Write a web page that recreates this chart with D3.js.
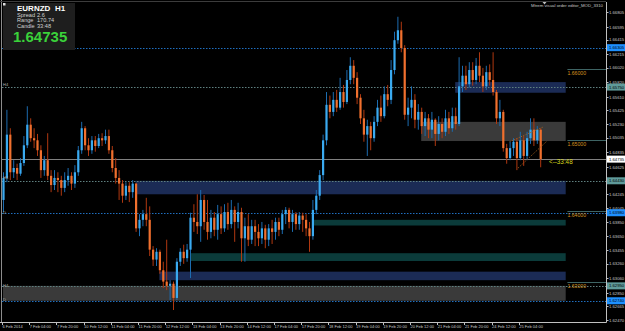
<!DOCTYPE html>
<html>
<head>
<meta charset="utf-8">
<title>EURNZD H1</title>
<style>
  body { margin: 0; background: #000; }
  svg { display: block; }
  text { font-family: "Liberation Sans", Arial, sans-serif; }
</style>
<script src="https://d3js.org/d3.v7.min.js"></script>
</head>
<body>
<svg width="625" height="331"></svg>
<script>
// EURNZD H1, one bar every two hours
var firstOpen = 1.6416;
var closes = [
  1.6447, 1.6508, 1.6455, 1.6461, 1.6453, 1.6468, 1.6493, 1.6522, 1.6503, 1.6500,
  1.6486, 1.6458, 1.6472, 1.6450, 1.6437, 1.6447, 1.6444, 1.6433, 1.6444, 1.6450,
  1.6439, 1.6455, 1.6486, 1.6517, 1.6493, 1.6486, 1.6500, 1.6492, 1.6503, 1.6500,
  1.6506, 1.6486, 1.6461, 1.6447, 1.6439, 1.6422, 1.6436, 1.6427, 1.6439, 1.6376,
  1.6388, 1.6396, 1.6388, 1.6346, 1.6332, 1.6343, 1.6317, 1.6301, 1.6295, 1.6298,
  1.6278, 1.6329, 1.6343, 1.6334, 1.6346, 1.6391, 1.6385, 1.6379, 1.6416, 1.6385,
  1.6371, 1.6391, 1.6374, 1.6396, 1.6376, 1.6399, 1.6382, 1.6402, 1.6385, 1.6399,
  1.6362, 1.6379, 1.6360, 1.6379, 1.6371, 1.6362, 1.6376, 1.6360, 1.6376, 1.6371,
  1.6385, 1.6374, 1.6396, 1.6402, 1.6385, 1.6396, 1.6382, 1.6394, 1.6388, 1.6376,
  1.6365, 1.6402, 1.6422, 1.6451, 1.6500, 1.6550, 1.6540, 1.6557, 1.6546, 1.6568,
  1.6554, 1.6585, 1.6605, 1.6588, 1.6560, 1.6531, 1.6508, 1.6520, 1.6503, 1.6526,
  1.6546, 1.6534, 1.6565, 1.6557, 1.6599, 1.6641, 1.6655, 1.6630, 1.6536, 1.6546,
  1.6557, 1.6529, 1.6540, 1.6520, 1.6531, 1.6515, 1.6529, 1.6509, 1.6523, 1.6512,
  1.6531, 1.6517, 1.6534, 1.6523, 1.6576, 1.6591, 1.6579, 1.6599, 1.6585, 1.6605,
  1.6591, 1.6576, 1.6596, 1.6585, 1.6568, 1.6531, 1.6540, 1.6489, 1.6475, 1.6489,
  1.6498, 1.6475, 1.6500, 1.6478, 1.6503, 1.6515, 1.6500, 1.6515, 1.64735
];
var highs = [
  1.6455, 1.6543, 1.6517, 1.6472, 1.6467, 1.6475, 1.6506, 1.6548, 1.6531, 1.6517,
  1.6509, 1.6493, 1.6478, 1.6510, 1.6458, 1.6458, 1.6455, 1.6450, 1.6455, 1.6461,
  1.6455, 1.6465, 1.6492, 1.6526, 1.6520, 1.6503, 1.6506, 1.6506, 1.6509, 1.6510,
  1.6515, 1.6515, 1.6492, 1.6475, 1.6458, 1.6444, 1.6441, 1.6441, 1.6444, 1.6440,
  1.6396, 1.6402, 1.6419, 1.6407, 1.6351, 1.6348, 1.6346, 1.6329, 1.6360, 1.6303,
  1.6301, 1.6334, 1.6348, 1.6353, 1.6354, 1.6398, 1.6410, 1.6424, 1.6430, 1.6423,
  1.6416, 1.6402, 1.6399, 1.6409, 1.6407, 1.6410, 1.6412, 1.6416, 1.6407, 1.6412,
  1.6405, 1.6391, 1.6396, 1.6388, 1.6388, 1.6382, 1.6385, 1.6381, 1.6382, 1.6388,
  1.6391, 1.6391, 1.6402, 1.6406, 1.6405, 1.6402, 1.6399, 1.6399, 1.6398, 1.6396,
  1.6385, 1.6416, 1.6430, 1.6458, 1.6508, 1.6568, 1.6563, 1.6568, 1.6571, 1.6588,
  1.6578, 1.6599, 1.6617, 1.6613, 1.6596, 1.6565, 1.6543, 1.6529, 1.6526, 1.6534,
  1.6557, 1.6563, 1.6576, 1.6578, 1.6613, 1.6653, 1.6674, 1.6667, 1.6634, 1.6560,
  1.6576, 1.6565, 1.6551, 1.6546, 1.6540, 1.6537, 1.6540, 1.6531, 1.6534, 1.6531,
  1.6543, 1.6540, 1.6546, 1.6546, 1.6617, 1.6605, 1.6605, 1.6610, 1.6610, 1.6616,
  1.6624, 1.6602, 1.6605, 1.6607, 1.6624, 1.6571, 1.6557, 1.6543, 1.6495, 1.6498,
  1.6503, 1.6503, 1.6512, 1.6506, 1.6512, 1.6531, 1.6531, 1.6520, 1.6517
];
var lows = [
  1.6399, 1.6441, 1.6444, 1.6447, 1.6444, 1.6450, 1.6464, 1.6489, 1.6498, 1.6489,
  1.6478, 1.6447, 1.6450, 1.6444, 1.6427, 1.6430, 1.6427, 1.6422, 1.6427, 1.6436,
  1.6430, 1.6433, 1.6450, 1.6481, 1.6486, 1.6478, 1.6481, 1.6484, 1.6489, 1.6492,
  1.6495, 1.6481, 1.6455, 1.6439, 1.6416, 1.6412, 1.6416, 1.6413, 1.6419, 1.6371,
  1.6365, 1.6379, 1.6379, 1.6337, 1.6323, 1.6323, 1.6312, 1.6292, 1.6289, 1.6275,
  1.6261, 1.6275, 1.6323, 1.6326, 1.6329, 1.6306, 1.6371, 1.6368, 1.6357, 1.6374,
  1.6360, 1.6362, 1.6365, 1.6360, 1.6368, 1.6371, 1.6374, 1.6376, 1.6357, 1.6376,
  1.6329, 1.6329, 1.6351, 1.6354, 1.6351, 1.6351, 1.6354, 1.6348, 1.6351, 1.6354,
  1.6360, 1.6365, 1.6368, 1.6382, 1.6376, 1.6371, 1.6374, 1.6374, 1.6371, 1.6365,
  1.6343, 1.6360, 1.6396, 1.6416, 1.6444, 1.6493, 1.6531, 1.6534, 1.6540, 1.6543,
  1.6546, 1.6551, 1.6579, 1.6579, 1.6551, 1.6523, 1.6498, 1.6478, 1.6486, 1.6498,
  1.6520, 1.6526, 1.6531, 1.6548, 1.6551, 1.6593, 1.6636, 1.6624, 1.6529, 1.6520,
  1.6531, 1.6517, 1.6515, 1.6509, 1.6506, 1.6503, 1.6503, 1.6492, 1.6500, 1.6503,
  1.6506, 1.6509, 1.6512, 1.6515, 1.6520, 1.6568, 1.6571, 1.6574, 1.6577, 1.6579,
  1.6582, 1.6568, 1.6571, 1.6577, 1.6563, 1.6523, 1.6520, 1.6484, 1.6467, 1.6472,
  1.6478, 1.6458, 1.6472, 1.6464, 1.6472, 1.6495, 1.6492, 1.6495, 1.6462
];

// time axis: one label every 8 bars
var dateLabels = ["6 Feb 2014", "7 Feb 04:00", "7 Feb 20:00", "10 Feb 12:00", "11 Feb 04:00",
  "11 Feb 20:00", "12 Feb 12:00", "13 Feb 04:00", "13 Feb 20:00", "14 Feb 12:00",
  "17 Feb 04:00", "17 Feb 20:00", "18 Feb 12:00", "19 Feb 04:00", "19 Feb 20:00",
  "20 Feb 12:00", "21 Feb 04:00", "21 Feb 20:00", "24 Feb 12:00", "25 Feb 04:00"];
var priceTicks = [1.66805, 1.66595, 1.66415, 1.66215, 1.66020, 1.65820, 1.65610, 1.65425,
  1.65230, 1.65035, 1.64835, 1.64625, 1.64425, 1.64245, 1.64045, 1.63850, 1.63650,
  1.63455, 1.63260, 1.63060, 1.62850, 1.62665, 1.62470];

// supply / demand zones
var zoneFrom = [133, 123, 39, 91, 55, 46, 0];
var zoneHigh = [1.6582, 1.6526, 1.6443, 1.6388, 1.6341, 1.6315, 1.6295];
var zoneLow  = [1.6567, 1.6499, 1.6424, 1.6380, 1.6330, 1.6303, 1.6274];
var zoneKind = ["navy", "gray", "navy", "teal", "teal", "navy", "gray"];
var zoneEnd = 165.5;

// dotted horizontal levels
var levelPrice = [1.66305, 1.65750, 1.64430, 1.63980, 1.62950, 1.62740];
var levelKind = ["blue", "teal", "teal", "blue", "teal", "blue"];
var roundLevels = [1.66, 1.65, 1.64, 1.63];
var bid = 1.64735;

// user trendlines: [bar, price] pairs
var trendA = [[149, 1.6498], [159, 1.6519]];
var trendB = [[151.5, 1.6461], [160, 1.6499]];

var tfMarks = ["H4", "H4", "D", "H4", "D"];
var tfMarkPrice = [1.6579, 1.6447, 1.6399, 1.6296, 1.6276];

var zoneColor = { navy: "#1b2b55", gray: "#3a3a3a", teal: "#0b3b3a" };
var levelColor = { blue: "#1f6fc0", teal: "#5f8080" };
var labelBg = { blue: "#1e90ff", teal: "#5f9a9a" };

var svg = d3.select("svg");
var W = 625, H = 331, right = 606, bottom = 322;

var x = d3.scaleLinear().domain([0, 158]).range([3, 540.2]);
var y = d3.scaleLinear().domain([1.6692, 1.62441]).range([4, 322]);

svg.append("rect").attr("width", W).attr("height", H).attr("fill", "#000");

svg.append("clipPath").attr("id", "plot")
  .append("rect").attr("x", 2).attr("y", 2).attr("width", right - 2).attr("height", bottom - 2);

var plot = svg.append("g").attr("clip-path", "url(#plot)");

// zones
plot.selectAll("rect.zone")
  .data(zoneFrom)
  .enter().append("rect")
  .attr("class", "zone")
  .attr("x", function (d) { return x(d); })
  .attr("width", function (d) { return x(zoneEnd) - x(d); })
  .attr("y", function (d, i) { return y(zoneHigh[i]); })
  .attr("height", function (d, i) { return y(zoneLow[i]) - y(zoneHigh[i]); })
  .attr("fill", function (d, i) { return zoneColor[zoneKind[i]]; });

// dotted levels
plot.selectAll("line.level")
  .data(levelPrice)
  .enter().append("line")
  .attr("x1", 2).attr("x2", right)
  .attr("y1", function (d) { return Math.round(y(d)) + 0.5; })
  .attr("y2", function (d) { return Math.round(y(d)) + 0.5; })
  .attr("stroke", function (d, i) { return levelColor[levelKind[i]]; })
  .attr("stroke-width", 1)
  .attr("stroke-dasharray", "1.5,1.5");

// bid line
plot.append("line")
  .attr("x1", 2).attr("x2", right)
  .attr("y1", Math.round(y(bid)) + 0.5).attr("y2", Math.round(y(bid)) + 0.5)
  .attr("stroke", "#808080");

// round number levels in the right margin
plot.selectAll("line.round")
  .data(roundLevels)
  .enter().append("line")
  .attr("x1", x(166)).attr("x2", right)
  .attr("y1", function (d) { return Math.round(y(d)) + 0.5; })
  .attr("y2", function (d) { return Math.round(y(d)) + 0.5; })
  .attr("stroke", "#3e6464");

plot.selectAll("text.round")
  .data(roundLevels)
  .enter().append("text")
  .attr("x", x(166))
  .attr("y", function (d) { return y(d) + 5.5; })
  .attr("font-size", 5.2)
  .attr("fill", "#d4921e")
  .text(function (d) { return d.toFixed(5); });

// candles
var bars = closes.map(function (c, i) {
  var o = i === 0 ? firstOpen : closes[i - 1];
  return {
    i: i, o: o, c: c,
    h: Math.max(highs[i], o, c),
    l: Math.min(lows[i], o, c)
  };
});

var candle = plot.selectAll("g.candle")
  .data(bars)
  .enter().append("g");

candle.append("line")
  .attr("x1", function (d) { return x(d.i) + 0.5; })
  .attr("x2", function (d) { return x(d.i) + 0.5; })
  .attr("y1", function (d) { return y(d.h); })
  .attr("y2", function (d) { return y(d.l); })
  .attr("stroke", function (d) { return d.c >= d.o ? "#1c6cb0" : "#b03810"; })
  .attr("stroke-width", 1);

candle.append("rect")
  .attr("x", function (d) { return x(d.i) - 0.6; })
  .attr("width", 2.2)
  .attr("y", function (d) { return y(Math.max(d.o, d.c)); })
  .attr("height", function (d) { return Math.max(1, Math.abs(y(d.o) - y(d.c))); })
  .attr("fill", function (d) { return d.c >= d.o ? "#3aaaf0" : "#f0702e"; });

// trendlines
[trendA, trendB].forEach(function (t) {
  plot.append("line")
    .attr("x1", x(t[0][0])).attr("y1", y(t[0][1]))
    .attr("x2", x(t[1][0])).attr("y2", y(t[1][1]))
    .attr("stroke", "#b0661e")
    .attr("stroke-dasharray", "1,1.5");
});

// countdown label
plot.append("text")
  .attr("x", 549).attr("y", y(bid) + 5)
  .attr("font-size", 6.3)
  .attr("fill", "#d8d81e")
  .text("<--33:48");

// timeframe marks at left
plot.selectAll("text.tf")
  .data(tfMarks)
  .enter().append("text")
  .attr("x", 3)
  .attr("y", function (d, i) { return y(tfMarkPrice[i]) + 1.5; })
  .attr("font-size", 4)
  .attr("fill", "#b0b0b0")
  .text(function (d) { return d; });

// info panel
var info = svg.append("g");
info.append("rect").attr("x", 3).attr("y", 3).attr("width", 72).attr("height", 47).attr("fill", "#1e1e1e");
info.append("rect").attr("x", 3).attr("y", 3).attr("width", 2.5).attr("height", 2.5).attr("fill", "#e0e0e0");
info.append("text").attr("x", 17).attr("y", 10.5).attr("font-size", 8).attr("font-weight", "bold")
  .attr("fill", "#ffffff").text("EURNZD");
info.append("text").attr("x", 55).attr("y", 10.5).attr("font-size", 8).attr("font-weight", "bold")
  .attr("fill", "#ffffff").text("H1");
[["Spread", "2.6", 16.8], ["Range", "170.74", 22.2], ["Candle", "33:48", 27.5]].forEach(function (r) {
  info.append("text").attr("x", 17).attr("y", r[2]).attr("font-size", 5.6).attr("fill", "#d0d0d0").text(r[0]);
  info.append("text").attr("x", 37).attr("y", r[2]).attr("font-size", 5.6).attr("fill", "#d0d0d0").text(r[1]);
});
info.append("text").attr("x", 13).attr("y", 42).attr("font-size", 15).attr("font-weight", "bold")
  .attr("fill", "#3ad23a").text(bid.toFixed(5));

// top right caption
svg.append("text").attr("x", 603).attr("y", 7).attr("text-anchor", "end")
  .attr("font-size", 4.3).attr("fill", "#c8c8c8").text("Mtrem visual order editor_MOD_3310");
svg.append("path").attr("d", "M542.5,2 L546.5,2 L544.5,4.5 Z").attr("fill", "#c0c0c0");

// frame
svg.append("line").attr("x1", 1.5).attr("x2", 1.5).attr("y1", 0).attr("y2", bottom).attr("stroke", "#8c8c8c");
svg.append("line").attr("x1", 0).attr("x2", right).attr("y1", 1.5).attr("y2", 1.5).attr("stroke", "#3c3c3c");
svg.append("line").attr("x1", 0).attr("x2", right + 0.5).attr("y1", bottom + 0.5).attr("y2", bottom + 0.5).attr("stroke", "#c0c0c0");
svg.append("line").attr("x1", right + 0.5).attr("x2", right + 0.5).attr("y1", 2).attr("y2", bottom + 0.5).attr("stroke", "#c0c0c0");

// price axis
var pAxis = svg.append("g");
pAxis.selectAll("line").data(priceTicks).enter().append("line")
  .attr("x1", right).attr("x2", right + 2.5)
  .attr("y1", function (d) { return Math.round(y(d)) + 0.5; })
  .attr("y2", function (d) { return Math.round(y(d)) + 0.5; })
  .attr("stroke", "#c0c0c0");
pAxis.selectAll("text").data(priceTicks).enter().append("text")
  .attr("x", 609).attr("y", function (d) { return y(d) + 1.6; })
  .attr("font-size", 4.2).attr("fill", "#c8c8c8")
  .text(function (d) { return d.toFixed(5); });

// highlighted price labels
var tags = levelPrice.map(function (p, i) { return { p: p, bg: labelBg[levelKind[i]], fg: "#000" }; });
tags.push({ p: bid, bg: "#ffffff", fg: "#000" });
var tag = svg.selectAll("g.tag").data(tags).enter().append("g");
tag.append("rect")
  .attr("x", 607).attr("width", 18)
  .attr("y", function (d) { return y(d.p) - 3.5; }).attr("height", 7)
  .attr("fill", function (d) { return d.bg; });
tag.append("text")
  .attr("x", 609).attr("y", function (d) { return y(d.p) + 1.6; })
  .attr("font-size", 4.2).attr("fill", function (d) { return d.fg; })
  .text(function (d) { return d.p.toFixed(5); });

// time axis
var tAxis = svg.append("g");
tAxis.selectAll("line").data(dateLabels).enter().append("line")
  .attr("x1", function (d, i) { return Math.round(x(i * 8)) - 0.5; })
  .attr("x2", function (d, i) { return Math.round(x(i * 8)) - 0.5; })
  .attr("y1", bottom).attr("y2", bottom + 3)
  .attr("stroke", "#c0c0c0");
tAxis.selectAll("text").data(dateLabels).enter().append("text")
  .attr("x", function (d, i) { return x(i * 8) - 0.5; })
  .attr("y", 328)
  .attr("font-size", 4.0).attr("fill", "#c8c8c8")
  .text(function (d) { return d; });
</script>
</body>
</html>
